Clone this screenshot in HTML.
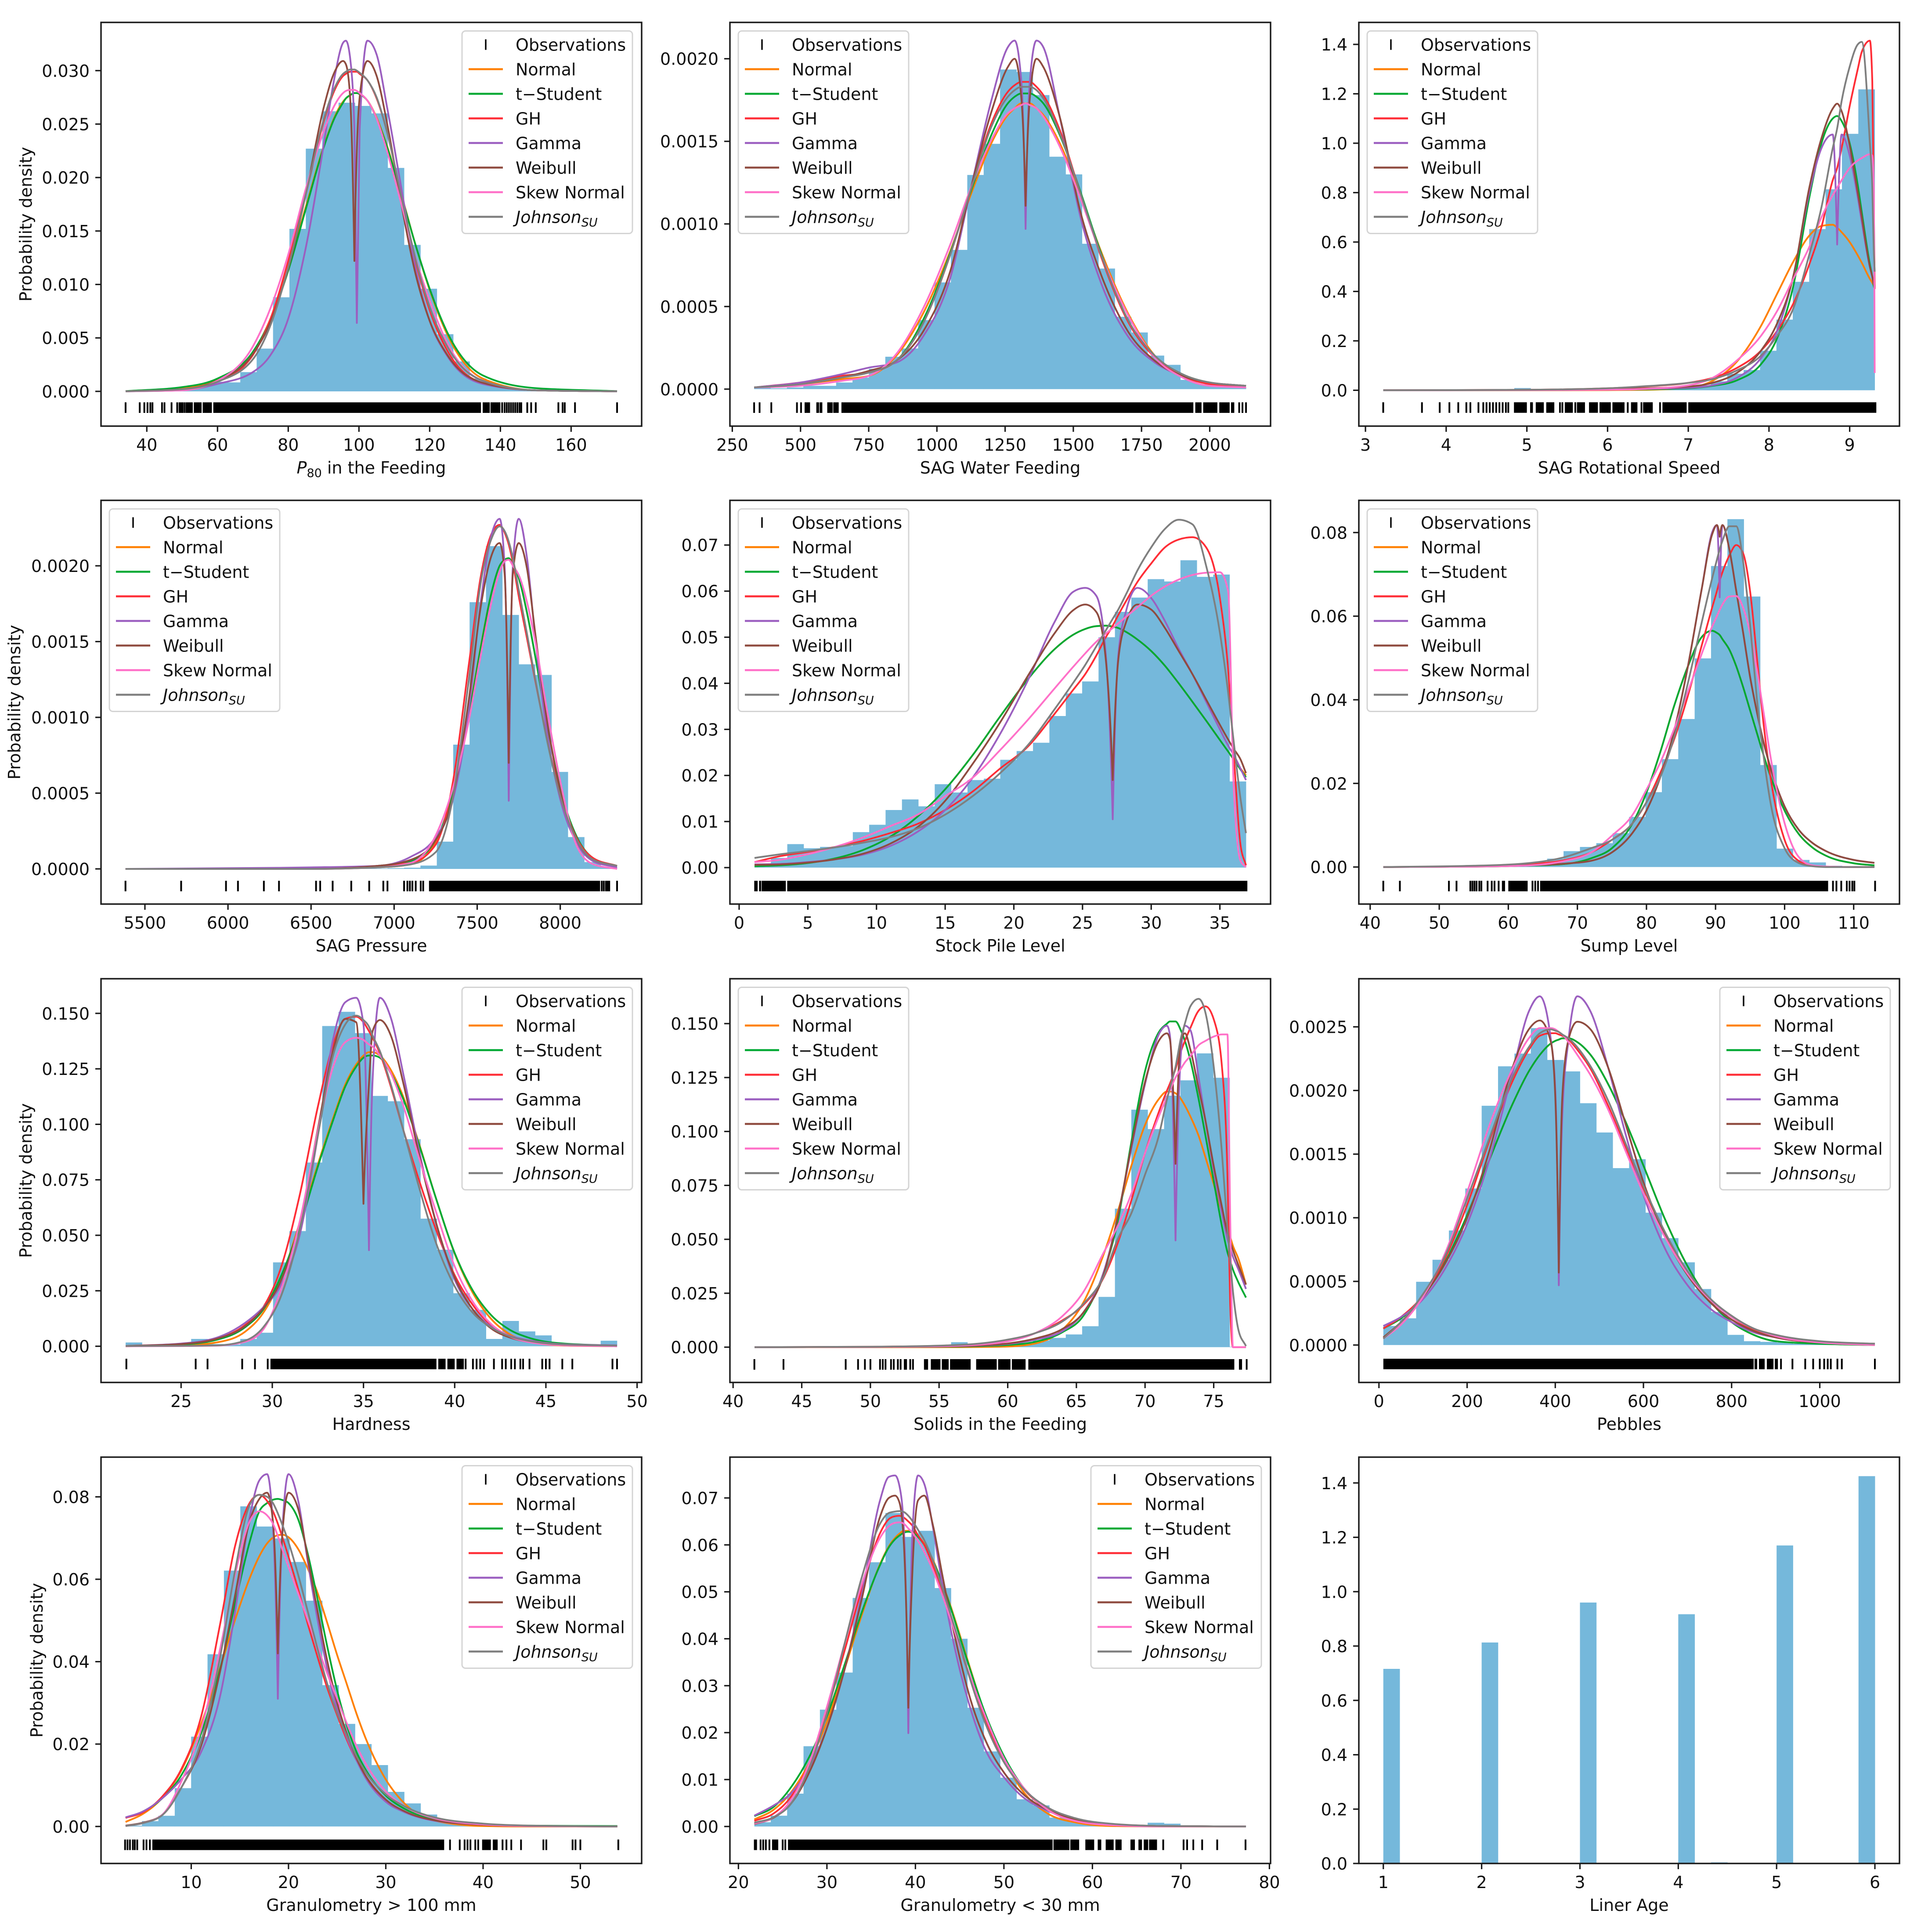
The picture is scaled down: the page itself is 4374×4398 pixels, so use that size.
<!DOCTYPE html>
<html lang="en">
<head>
<meta charset="utf-8">
<title>Probability density fits for SAG mill variables</title>
<style>
html,body{margin:0;padding:0;background:#fff;}
svg{display:block;width:4374px;height:4398px;font-family:"DejaVu Sans","Liberation Sans",sans-serif;}
text{fill:#111;white-space:pre;}
</style>
</head>
<body>
<svg id="figure" width="4374" height="4398" viewBox="0 0 4374 4398"></svg>
<script>
/* ---------- shared labels ---------- */
const seriesNames = ['Normal','t\u2212Student','GH','Gamma','Weibull','Skew Normal','Johnson'];
const seriesColors = ['#ff8000','#00a933','#ff2d36','#9b5fc0','#8f4b3f','#ff70c8','#7f7f7f'];

/* ---------- P80 in the feeding ---------- */
const p80Bins = [.00005,.00005,.00015,.0002,.00054,.0009,.00084,.0018,.004,.0088,.0152,.0227,.0262,.027,.0267,.026,.0209,.0137,.0096,.00535,.0028,.0012,.00055,.0003,.0002,.0001,.0001,.00003,0,.00002];
const p80X = [34,50,60,70,75,80,85,90,93,95.5,96.3,97.5,98.7,99.4,100.2,102.4,105,108,112,116,120,125,135,150,173];
const p80Normal = [0,.0003,.0011,.0036,.0068,.0115,.0173,.0229,.0256,.0271,.0274,.0277,.0279,.0279,.0278,.0272,.0256,.0229,.0184,.0137,.0095,.0053,.0012,.0001,0];
const p80Student = [.00002,.0004,.0012,.0037,.0067,.0113,.0171,.0228,.0255,.027,.0274,.0277,.0279,.0279,.0278,.0272,.0255,.0228,.0183,.0137,.0096,.0055,.0015,.0003,.00002];
const p80GH = [0,.0002,.0009,.0034,.0068,.0122,.0185,.0252,.0281,.0295,.0297,.0299,.0299,.0299,.0297,.0291,.0274,.0242,.0182,.0122,.0076,.0038,.0008,.0001,0];
const p80Gamma = [0,.0001,.0007,.0018,.0034,.0068,.0135,.023,.0292,.0326,.0328,.0312,.0245,.0064,.0245,.0328,.0315,.0265,.019,.0115,.0066,.0033,.0007,.0001,0];
const p80Weibull = [0,.0002,.001,.0035,.0065,.0115,.0185,.0265,.0298,.0309,.0306,.0275,.0122,.0225,.0275,.0309,.0295,.025,.0175,.011,.0066,.0034,.0008,.0001,0];
const p80Skew = [0,.0001,.001,.0042,.0078,.0128,.019,.0243,.0267,.0279,.0281,.0282,.0282,.0281,.0279,.0272,.0255,.0224,.0175,.0125,.0085,.0045,.001,.0001,0];
const p80Johnson = [0,.0002,.0009,.003,.0062,.0116,.0185,.0254,.0283,.0297,.0299,.0301,.0301,.03,.0298,.0291,.0275,.0242,.0182,.0124,.0079,.0042,.001,.0001,0];
const p80Obs = [34,38,39.3,40.2,41,41.6,44.3,45,47,48.6,50.7,140.5,141.2,141.8,142.4,143,143.6,144.2,144.8,145.4,145.9,147.6,148.7,150,156.4,157.6,158.2,161.1,173];
const p80ObsBands = [[49,50.4],[51,53],[53.3,55.5],[55.8,58.4],[58.8,134.5],[135,137],[137.2,140]];
const p80XTicks = ['40','60','80','100','120','140','160'];
const p80YTicks = ['0.000','0.005','0.010','0.015','0.020','0.025','0.030'];

/* ---------- SAG water feeding ---------- */
const waterBins = [.00001,.000005,.00001,.00002,.00002,.00004,.00007,.000123,.000196,.000246,.000418,.000646,.000843,.0012965,.001485,.001935,.00192,.00178,.001407,.0013,.00088,.00073,.000438,.000343,.000203,.000147,.000056,.00003,.00002,.00001];
const waterX = [330,500,650,750,850,950,1050,1125,1200,1260,1285,1310,1325,1340,1365,1390,1450,1525,1600,1700,1800,1900,2000,2133];
const waterNormal = [.00001,.00003,.00006,.00008,.0002,.00046,.00084,.00118,.00149,.00166,.0017,.00173,.00173,.00173,.0017,.00166,.00149,.00118,.00084,.00046,.0002,.00008,.00003,.00001];
const waterStudent = [.00001,.00003,.00008,.0001,.00017,.00042,.00083,.0012,.00154,.00173,.00177,.00179,.00179,.00179,.00177,.00173,.00154,.0012,.00083,.00042,.0002,.00009,.00004,.00002];
const waterGH = [.00001,.00004,.00008,.0001,.00017,.0004,.00082,.00122,.00161,.0018,.00184,.00186,.00186,.00186,.00183,.00178,.00157,.00119,.00081,.00041,.00019,.00008,.00003,.00001];
const waterGamma = [.00001,.00004,.00009,.00013,.00016,.00032,.00068,.00122,.00175,.00207,.00211,.00185,.00097,.00185,.00211,.00207,.00165,.00105,.00065,.00032,.00016,.00008,.00004,.00002];
const waterWeibull = [.00001,.00003,.00007,.00011,.00017,.00035,.00072,.00122,.00168,.00195,.002,.00175,.00111,.00175,.002,.00195,.00165,.00108,.0007,.00035,.00017,.00008,.00004,.00002];
const waterSkew = [.00001,.00002,.00005,.00008,.00021,.00049,.00088,.00122,.00151,.00167,.0017,.00172,.00173,.00172,.0017,.00165,.00147,.00116,.00082,.00045,.00019,.00007,.00002,.00001];
const waterJohnson = [.00001,.00003,.00007,.0001,.00017,.0004,.00082,.00121,.00159,.00177,.00181,.00183,.00183,.00183,.00181,.00176,.00155,.00119,.00082,.00042,.0002,.00009,.00004,.00002];
const waterObs = [330,350,393,487,502,2108,2120,2133];
const waterObsBands = [[515,535],[558,568],[570,580],[598,618],[620,640],[650,1940],[1947,1970],[1976,2028],[2035,2073],[2078,2090]];
const waterXTicks = ['250','500','750','1000','1250','1500','1750','2000'];
const waterYTicks = ['0.0000','0.0005','0.0010','0.0015','0.0020'];

/* ---------- SAG rotational speed ---------- */
const speedBins = [.0005,0,.0005,.001,.001,.002,.002,.003,.009,.004,.004,.005,.006,.007,.006,.008,.009,.01,.014,.02,.036,.067,.082,.16,.286,.439,.6525,.8135,1.038,1.218];
const speedX = [3.22,5,6,6.5,7,7.3,7.6,7.9,8.1,8.3,8.5,8.65,8.79,8.845,8.9,9,9.1,9.15,9.25,9.28,9.3,9.31];
const speedNormal = [0,0,.0005,.002,.0103,.038,.115,.26,.39,.52,.626,.665,.67,.658,.64,.6,.546,.516,.451,.435,.422,.41];
const speedStudent = [0,.0005,.002,.004,.008,.018,.04,.105,.21,.42,.78,1,1.1,1.11,1.09,1,.83,.72,.51,.46,.42,.41];
const speedGH = [0,.002,.008,.016,.03,.05,.09,.16,.24,.35,.51,.66,.85,.9,.98,1.15,1.3,1.37,1.415,1.25,.72,.41];
const speedGamma = [0,.001,.003,.006,.01,.02,.05,.13,.24,.46,.8,.98,1.035,.59,1.035,.95,.78,.68,.5,.46,.43,.43];
const speedWeibull = [0,.001,.004,.008,.015,.03,.07,.16,.27,.46,.82,1.02,1.14,1.16,1.13,.99,.8,.7,.5,.46,.43,.42];
const speedSkew = [0,.0005,.002,.006,.02,.05,.12,.22,.32,.45,.58,.7,.79,.82,.85,.9,.93,.94,.955,.95,.8,.07];
const speedJohnson = [0,.002,.008,.017,.03,.045,.08,.14,.22,.33,.55,.74,.98,1.06,1.17,1.31,1.4,1.41,1,.82,.55,.48];
const speedObs = [3.22,3.7,3.92,4.04,4.15,4.25,4.3,4.4,4.46,4.5,4.54,4.58,4.62,4.66,4.7,4.74,4.77,5.41,5.44,5.6,6.25,6.42,6.65];
const speedObsBands = [[4.84,5],[5.04,5.075],[5.11,5.21],[5.24,5.34],[5.47,5.57],[5.62,5.72],[5.77,5.88],[5.9,6.04],[6.06,6.21],[6.29,6.37],[6.44,6.56],[6.68,6.98],[7,9.33]];
const speedXTicks = ['3','4','5','6','7','8','9'];
const speedYTicks = ['0.0','0.2','0.4','0.6','0.8','1.0','1.2','1.4'];

/* ---------- SAG pressure ---------- */
const pressureBins = [0,0,0,0,0,0,0,0,0,0,0,0,0,0,.000003,.000003,.000005,.000008,.000022,.00018,.00082,.00176,.00213,.001676,.00135,.00128,.00064,.00021,.000045,.00001];
const pressureX = [5383,6500,6900,7100,7250,7350,7450,7520,7590,7635,7665,7690,7715,7750,7800,7850,7920,8000,8100,8200,8342];
const pressureNormal = [0,0,.00001,.00003,.00018,.00049,.00102,.00146,.00184,.002,.00204,.00205,.00201,.00192,.00169,.0014,.00096,.00053,.0002,.00006,.00002];
const pressureStudent = [0,0,.00002,.00005,.00019,.00049,.00101,.00145,.00184,.002,.00204,.00205,.00201,.00192,.00169,.0014,.00096,.00053,.00021,.00007,.00002];
const pressureGH = [0,0,.00002,.00004,.00016,.00055,.00135,.00192,.00222,.00227,.00222,.00214,.00202,.0018,.00152,.00124,.00086,.0005,.0002,.00007,.00002];
const pressureGamma = [0,.00001,.00002,.00008,.00021,.00044,.00105,.00175,.00222,.00231,.002,.00045,.002,.00231,.00205,.00152,.0009,.00046,.00017,.00005,.00001];
const pressureWeibull = [0,0,.00002,.00006,.00019,.00046,.00112,.00172,.00208,.00215,.00195,.0007,.00195,.00215,.00198,.00155,.00098,.00052,.00019,.00006,.00002];
const pressureSkew = [0,0,.00001,.00004,.00022,.00052,.00098,.0014,.00178,.00196,.00203,.00204,.002,.00194,.00176,.0015,.00105,.00058,.00015,.00003,0];
const pressureJohnson = [0,0,.00001,.00003,.00011,.00045,.00125,.00188,.00219,.00226,.00223,.00216,.00205,.00184,.00155,.00125,.00085,.00048,.00019,.00006,.00002];
const pressureObs = [5383,5718,5988,6060,6216,6307,6530,6555,6630,6742,6850,6935,6960,7060,7080,7095,7110,7130,7160,7175,8250,8262,8275,8285,8295,8342];
const pressureObsBands = [[7210,8240]];
const pressureXTicks = ['5500','6000','6500','7000','7500','8000'];
const pressureYTicks = ['0.0000','0.0005','0.0010','0.0015','0.0020'];

/* ---------- Stock pile level ---------- */
const stockBins = [.0003,.0021,.0051,.0042,.0045,.0047,.0077,.0093,.0125,.0148,.0133,.0181,.0163,.019,.0193,.0234,.0253,.0271,.0329,.0378,.0404,.05,.0555,.0586,.0626,.0621,.0667,.0631,.0636,.0187];
const stockX = [1.12,3,5,7,9,11,13,15,17,19,21,23,24.3,25.2,26,26.7,27.2,27.6,28.2,29,30,31,32,33,34,35,35.6,36,36.5,36.9];
const stockNormal = [.0003,.0005,.001,.002,.0038,.0067,.0111,.017,.0244,.0328,.0408,.0475,.0505,.0518,.0524,.0525,.0523,.052,.0511,.0495,.047,.0438,.04,.036,.0319,.0277,.0252,.0235,.0215,.02];
const stockStudent = [.0003,.0005,.001,.002,.0038,.0067,.0111,.017,.0244,.0328,.0408,.0475,.0505,.0518,.0524,.0525,.0523,.052,.0511,.0495,.047,.0438,.04,.036,.0319,.0277,.0252,.0235,.0213,.0196];
const stockGH = [.0012,.0025,.0034,.0045,.0058,.0075,.0095,.0125,.0165,.0215,.0262,.0335,.0385,.042,.046,.05,.0525,.0548,.058,.062,.066,.0695,.0712,.0717,.0695,.0585,.043,.025,.005,.0005];
const stockGamma = [.0007,.0008,.0012,.0018,.0028,.0047,.0078,.0125,.0195,.029,.0405,.0535,.0598,.0607,.059,.046,.0105,.046,.056,.0607,.0585,.0535,.0475,.042,.036,.03,.0265,.0245,.0215,.019];
const stockWeibull = [.0006,.0007,.0011,.0018,.003,.0052,.0088,.0145,.0225,.0315,.0415,.051,.0558,.0571,.0555,.045,.019,.045,.0535,.0571,.056,.052,.047,.042,.0365,.031,.0278,.0258,.0235,.0205];
const stockSkew = [.0012,.0017,.0029,.0045,.0065,.009,.0115,.0155,.0195,.0255,.032,.039,.0435,.0465,.049,.0508,.052,.053,.0545,.0565,.059,.061,.0625,.0635,.064,.0641,.06,.018,.0015,.0001];
const stockJohnson = [.0021,.0029,.0036,.0044,.0054,.0066,.0085,.0115,.0155,.0205,.0265,.0345,.04,.044,.048,.0515,.054,.056,.0595,.0645,.0695,.0735,.0755,.0745,.0655,.051,.038,.0275,.015,.0075];
const stockObs = [2,1.7];
const stockObsBands = [[1.1,1.35],[1.45,1.6],[1.75,1.95],[2.05,3.4],[3.5,37]];
const stockXTicks = ['0','5','10','15','20','25','30','35'];
const stockYTicks = ['0.00','0.01','0.02','0.03','0.04','0.05','0.06','0.07'];

/* ---------- Sump level ---------- */
const sumpBins = [.0001,.0001,.0001,.0002,.0003,.0004,.0004,.0005,.0008,.0012,.002,.0038,.0048,.0057,.0081,.012,.0179,.0258,.0354,.0499,.072,.0832,.0647,.0244,.0044,.0017,.0011,.0003,.0002,.0001];
const sumpX = [41.9,55,62,68,72,75,78,80,82,84,86,88,89.5,90.2,90.6,91,92,93,94,95,96,97,98,100,102,104,106,110,113];
const sumpNormal = [0,.0001,.0003,.0007,.0021,.0045,.0105,.0178,.0275,.0385,.048,.055,.0565,.056,.0555,.0545,.052,.048,.043,.0375,.032,.0265,.0215,.0135,.008,.0047,.0027,.0009,.0004];
const sumpStudent = [0,.0001,.0003,.0007,.0021,.0045,.0105,.0178,.0275,.0385,.048,.055,.0565,.056,.0555,.0545,.052,.048,.043,.0375,.032,.0265,.0215,.0135,.008,.0047,.0027,.0009,.0004];
const sumpGH = [0,.0002,.0006,.0016,.0035,.0065,.0105,.0155,.0225,.0305,.041,.053,.062,.066,.0685,.0705,.0745,.077,.075,.066,.05,.0335,.021,.0065,.0015,.0003,.0001,0,0];
const sumpGamma = [0,.0001,.0004,.0008,.0015,.0035,.0082,.0135,.0215,.0325,.048,.0665,.08,.0818,.0645,.0818,.076,.066,.056,.0455,.037,.0295,.0235,.0145,.009,.0058,.0038,.0017,.001];
const sumpWeibull = [0,.0001,.0004,.0008,.0015,.0035,.0082,.0135,.0215,.0325,.048,.0665,.0795,.0818,.079,.0818,.076,.066,.056,.0455,.037,.0295,.0235,.0145,.009,.0058,.0038,.0017,.001];
const sumpSkew = [0,.0001,.0003,.0014,.0035,.0075,.0125,.0185,.025,.033,.042,.051,.0575,.06,.0615,.0628,.0647,.0648,.062,.056,.047,.0365,.026,.0105,.0025,.0004,.0001,0,0];
const sumpJohnson = [0,.0003,.0008,.0023,.0045,.0065,.0105,.0155,.0215,.031,.044,.0585,.069,.0735,.076,.078,.0815,.0815,.073,.058,.04,.026,.015,.0045,.001,.0002,0,0,0];
const sumpObs = [41.9,44.3,51.4,52.5,54.5,54.8,55.1,55.4,55.8,56.1,57,57.6,58,58.6,59.2,59.4,63.5,63.9,64.3,107,107.5,108.2,109,109.4,109.8,110.1,113.1];
const sumpObsBands = [[60,62.8],[64.6,106.3]];
const sumpXTicks = ['40','50','60','70','80','90','100','110'];
const sumpYTicks = ['0.00','0.02','0.04','0.06','0.08'];

/* ---------- Hardness ---------- */
const hardBins = [.0017,.0006,.0003,.0005,.0033,.001,.0008,.0033,.0061,.0378,.0519,.0828,.1443,.1507,.1411,.1128,.1104,.0933,.0575,.0435,.0239,.0164,.0033,.0114,.0067,.0049,.0008,.0005,0,.0025];
const hardX = [21.96,25,27,28.5,29.5,30.5,31.5,32.5,33.3,34,34.6,35,35.3,35.5,35.9,36.5,37.2,38,39,40,41,42,43,44,46,48.9];
const hardNormal = [0,.0003,.0018,.0065,.015,.031,.0555,.082,.102,.118,.127,.131,.1325,.1325,.131,.1245,.112,.0925,.066,.0417,.024,.0123,.0055,.0022,.0003,0];
const hardStudent = [.0001,.0008,.003,.0085,.0165,.032,.054,.081,.101,.117,.126,.13,.131,.131,.13,.123,.111,.092,.066,.042,.025,.014,.0075,.004,.0012,.0003];
const hardGH = [.0001,.001,.0035,.0095,.0175,.036,.068,.108,.135,.1475,.1485,.146,.142,.139,.132,.117,.097,.076,.052,.032,.0185,.0095,.0048,.0024,.0006,.0001];
const hardGamma = [.0001,.0012,.004,.0105,.0175,.028,.05,.095,.137,.155,.157,.145,.0433,.12,.157,.148,.122,.09,.055,.03,.0165,.0088,.0048,.0028,.0009,.0004];
const hardWeibull = [.0001,.001,.0035,.009,.017,.03,.056,.098,.132,.1475,.146,.0642,.118,.142,.147,.14,.118,.088,.055,.031,.0165,.008,.004,.002,.0006,.0002];
const hardSkew = [0,.0001,.0003,.002,.0075,.026,.056,.097,.125,.137,.139,.138,.136,.135,.131,.123,.108,.086,.06,.036,.02,.01,.0045,.002,.0004,0];
const hardJohnson = [.0001,.0002,.0004,.0025,.0085,.023,.052,.095,.13,.145,.149,.147,.144,.14,.133,.118,.097,.073,.046,.027,.015,.0085,.0045,.0025,.0008,.0003];
const hardObs = [22,25.8,26.45,28.35,29.05,29.75,40.6,41,41.2,41.4,41.6,42.15,42.6,42.8,43.1,43.3,43.6,43.75,44.1,44.8,45,45.2,45.9,46.45,48.65,48.9];
const hardObsBands = [[29.9,39],[39.1,39.5],[39.6,40],[40.1,40.5]];
const hardXTicks = ['25','30','35','40','45','50'];
const hardYTicks = ['0.000','0.025','0.050','0.075','0.100','0.125','0.150'];

/* ---------- Solids in the feeding ---------- */
const solidsBins = [.0001,.0001,.0001,.0001,.0001,.0002,.0003,.0003,.0004,.0005,.0007,.0009,.0023,.001,.0011,.0014,.0019,.0031,.0043,.0059,.0097,.0233,.0642,.1101,.1011,.1166,.1237,.1362,.1249,.0002];
const solidsX = [41.56,50,55,58,60,62,64,65.5,67,68,69,70,71,71.6,71.8,72.22,72.6,72.9,73.3,73.9,74.4,75,75.6,76,76.2,76.4,76.8,77.35];
const solidsNormal = [0,0,0,.0001,.0003,.0017,.0082,.0206,.0433,.0626,.084,.103,.115,.1185,.1185,.1177,.1152,.112,.107,.098,.088,.0755,.0626,.0543,.051,.047,.041,.029];
const solidsStudent = [0,.0001,.0002,.0005,.001,.0025,.007,.0145,.035,.058,.095,.128,.146,.15,.151,.151,.147,.142,.133,.115,.098,.077,.056,.044,.04,.036,.03,.023];
const solidsGH = [0,.0002,.0006,.0016,.0033,.0065,.0125,.0195,.0325,.048,.068,.09,.109,.119,.122,.129,.137,.142,.148,.156,.158,.152,.13,.08,.02,0,0,0];
const solidsGamma = [0,.0001,.0003,.0007,.0015,.0035,.0075,.016,.035,.06,.092,.122,.145,.149,.145,.0495,.135,.149,.147,.125,.105,.082,.062,.05,.046,.042,.036,.027];
const solidsWeibull = [0,.0001,.0003,.0008,.0017,.004,.0085,.016,.034,.06,.093,.123,.142,.1455,.143,.085,.142,.1455,.138,.12,.105,.084,.065,.053,.049,.045,.038,.029];
const solidsSkew = [0,.0001,.0004,.0012,.0027,.0065,.0145,.0255,.044,.056,.071,.09,.107,.116,.119,.125,.129,.132,.135,.14,.142,.144,.145,.145,.06,0,0,0];
const solidsJohnson = [0,.0002,.0007,.0017,.0035,.0065,.012,.02,.033,.05,.062,.08,.098,.115,.12,.13,.143,.15,.158,.1615,.155,.13,.09,.055,.04,.026,.008,.0005];
const solidsObs = [41.55,43.67,48.2,49.1,49.6,50,50.7,50.9,51.1,51.5,51.7,52,52.2,52.5,52.6,52.9,53.1,76.9,77,77.4];
const solidsObsBands = [[53.9,54.2],[54.4,55.1],[55.2,55.7],[55.8,57.3],[57.7,59.2],[59.3,60.2],[60.3,61.3],[61.5,76.5]];
const solidsXTicks = ['40','45','50','55','60','65','70','75'];
const solidsYTicks = ['0.000','0.025','0.050','0.075','0.100','0.125','0.150'];

/* ---------- Pebbles ---------- */
const pebblesBins = [.00015,.00021,.000497,.00067,.0009,.00123,.00188,.00219,.00229,.00249,.00224,.00215,.0019,.00167,.00139,.00146,.00104,.00084,.00065,.00044,.00026,.00008,.00003,.000025,.00002,.00001,.00001,.000005,.000005,.000002];
const pebblesX = [10,50,100,150,200,250,300,340,365,390,400,408,416,430,450,480,520,560,600,650,700,750,800,850,900,1000,1125];
const pebblesNormal = [.00013,.00021,.00038,.00065,.00102,.00145,.00187,.00215,.00228,.00237,.00239,.0024,.00241,.00241,.00238,.00228,.00205,.00175,.00141,.00098,.00062,.00035,.00018,.00008,.00003,.00001,0];
const pebblesStudent = [.00013,.00021,.00038,.00065,.00102,.00145,.00187,.00215,.00228,.00237,.00239,.0024,.00241,.00241,.00238,.00228,.00205,.00175,.00141,.00098,.00062,.00035,.00018,.00008,.00003,.00001,0];
const pebblesGH = [.00013,.00022,.00039,.00068,.0011,.0016,.00205,.00232,.00243,.00245,.00245,.00244,.00243,.0024,.00232,.00217,.00188,.00155,.00123,.00087,.00057,.00036,.00022,.00012,.00007,.00002,.00001];
const pebblesGamma = [.00015,.00022,.00036,.0006,.00095,.00145,.0021,.00262,.00274,.0024,.002,.00047,.0018,.0024,.00274,.00262,.00218,.00165,.00118,.00075,.00047,.00029,.00018,.0001,.00006,.00002,.00001];
const pebblesWeibull = [.00006,.00018,.00038,.00064,.001,.00152,.00215,.00248,.00255,.00238,.00195,.00057,.00195,.0024,.00254,.00248,.00218,.00173,.00128,.00085,.00055,.00034,.0002,.00011,.00006,.00002,.00001];
const pebblesSkew = [.00005,.00016,.00038,.00072,.0012,.00172,.00215,.00241,.00249,.00249,.00248,.00246,.00244,.00238,.00228,.00212,.00185,.00152,.00119,.00084,.00056,.00036,.00022,.00013,.00007,.00002,0];
const pebblesJohnson = [.00005,.00018,.0004,.0007,.00115,.00162,.00208,.00234,.00245,.00248,.00247,.00246,.00244,.00241,.00234,.00219,.00192,.00158,.00125,.00088,.00058,.00037,.00023,.00013,.00008,.00003,.00001];
const pebblesObs = [912,938,967,985,1000,1010,1018,1025,1040,1050,1125];
const pebblesObsBands = [[10,850],[852,858],[862,875],[880,895],[898,905]];
const pebblesXTicks = ['0','200','400','600','800','1000'];
const pebblesYTicks = ['0.0000','0.0005','0.0010','0.0015','0.0020','0.0025'];

/* ---------- Granulometry > 100 mm ---------- */
const coarseBins = [.0002,.0013,.0026,.0093,.0218,.0418,.0621,.0777,.0728,.0699,.0642,.0548,.0343,.0249,.02,.0149,.0084,.0056,.0029,.0014,.0006,.0005,.0003,.0002,.0001,.0001,.0001,.00005,0,.00005];
const coarseX = [3.25,5,7,9,11,13,14.5,16,17,17.8,18.4,18.9,19.4,20,21,22,23,24,25,26,27,28,30,32,35,40,45,53.8];
const coarseNormal = [.0011,.003,.0069,.0137,.0248,.0387,.0501,.0602,.0656,.0687,.0701,.0707,.0708,.0702,.0673,.0625,.0566,.0493,.0416,.0345,.0273,.021,.0114,.0054,.0014,.0001,0,0];
const coarseStudent = [.0021,.0036,.0068,.0125,.0225,.0385,.054,.069,.0765,.0785,.0793,.0795,.0792,.0785,.0745,.066,.055,.0435,.033,.0245,.018,.0135,.0075,.0042,.0018,.0005,.0002,.0001];
const coarseGH = [.0021,.0034,.0072,.014,.0265,.0495,.068,.0785,.0805,.079,.0765,.0735,.07,.0655,.0575,.049,.041,.0335,.027,.021,.016,.012,.0065,.0036,.0015,.0004,.0001,0];
const coarseGamma = [.0022,.0036,.0068,.0115,.018,.032,.052,.075,.084,.0855,.073,.031,.073,.0855,.079,.064,.05,.038,.0285,.0215,.016,.0115,.006,.0034,.0014,.0004,.0001,0];
const coarseWeibull = [.0002,.0009,.0028,.0095,.0195,.038,.056,.074,.0795,.081,.074,.042,.072,.081,.077,.065,.052,.04,.03,.0225,.0165,.012,.0065,.0036,.0015,.0004,.0001,0];
const coarseSkew = [.0001,.0008,.0028,.011,.0235,.0435,.061,.074,.0765,.0755,.0735,.0705,.067,.063,.0565,.05,.0435,.037,.031,.025,.0195,.015,.0085,.0048,.002,.0005,.0001,0];
const coarseJohnson = [.0001,.0008,.0027,.0095,.0205,.0415,.062,.078,.0805,.08,.0785,.076,.073,.069,.061,.052,.043,.0345,.0275,.022,.017,.013,.0078,.0048,.0022,.0007,.0002,0];
const coarseObs = [3.2,3.45,3.7,4,4.2,4.45,5.1,5.4,5.75,36.6,37.6,38.1,38.4,38.7,39.2,39.5,42,42.4,42.9,43.9,46.2,46.5,49.2,49.5,50,53.9];
const coarseObsBands = [[6,36],[39.9,40.8],[41,41.5]];
const coarseXTicks = ['10','20','30','40','50'];
const coarseYTicks = ['0.00','0.02','0.04','0.06','0.08'];

/* ---------- Granulometry < 30 mm ---------- */
const fineBins = [.0009,.0023,.007,.0171,.0249,.0328,.0487,.0563,.0668,.0617,.063,.0508,.04,.0253,.016,.0104,.0058,.0045,.0019,.0016,.0007,.0004,.0002,.0002,.0008,.0006,.0001,.0001,0,.0001];
const fineX = [21.8,24,26,28,30,32,34,36,37,37.7,38.2,38.7,39.2,39.7,40.3,41,42,43,44,45,46,48,50,52,55,58,62,68,77.35];
const fineNormal = [.0015,.0036,.0074,.0136,.0223,.0336,.0454,.0559,.0597,.0615,.0624,.063,.063,.0628,.0619,.0602,.0567,.052,.0468,.0409,.0348,.0233,.0144,.0079,.0027,.0009,.0001,0,0];
const fineStudent = [.0022,.0042,.0085,.0148,.0235,.0345,.046,.0557,.0595,.0612,.062,.0626,.0628,.0626,.0617,.06,.0565,.052,.0465,.0405,.0345,.0235,.015,.0088,.0035,.0013,.0004,.0001,0];
const fineGH = [.0012,.0028,.0065,.0135,.0245,.0375,.051,.0625,.0655,.0661,.0662,.0658,.065,.064,.062,.06,.0555,.05,.0445,.0385,.0325,.022,.014,.0085,.0036,.0014,.0004,.0001,0];
const fineGamma = [.0023,.0045,.0072,.0125,.021,.0335,.05,.0695,.0745,.0748,.0725,.063,.0199,.064,.0748,.073,.0635,.052,.042,.0335,.0265,.016,.0105,.0065,.0033,.0015,.0005,.0001,0];
const fineWeibull = [.0005,.0019,.005,.0115,.021,.0335,.049,.066,.07,.0705,.069,.06,.0253,.056,.0695,.0705,.064,.054,.0445,.036,.0285,.018,.0115,.0072,.0035,.0016,.0005,.0001,0];
const fineSkew = [.0006,.002,.0058,.0135,.0255,.039,.052,.0615,.064,.0647,.0648,.0645,.0635,.0625,.0608,.0585,.0545,.0495,.044,.0385,.033,.023,.0145,.0088,.0035,.0012,.0003,0,0];
const fineJohnson = [.0008,.002,.005,.0125,.024,.039,.0535,.0645,.0668,.0671,.0672,.067,.0662,.065,.0632,.061,.0565,.051,.045,.039,.0325,.0215,.0137,.0085,.004,.0018,.0006,.0001,0];
const fineObs = [22.5,22.8,23.1,23.5,25,25.3,68,70.3,70.7,71.4,72.4,74.1,77.3];
const fineObsBands = [[21.75,22.1],[23.8,24.5],[25.6,55.5],[55.6,57.4],[57.5,58.5],[59.2,60.2],[60.6,61],[61.5,62.4],[62.6,63.3],[64.3,64.8],[65.2,65.6],[65.8,66.3],[66.4,67.3]];
const fineXTicks = ['20','30','40','50','60','70','80'];
const fineYTicks = ['0.00','0.01','0.02','0.03','0.04','0.05','0.06','0.07'];

/* ---------- Liner age ---------- */
const linerBins = [.716,0,0,0,0,0,.813,0,0,0,0,0,.96,0,0,0,0,0,.917,0,.004,0,0,0,1.17,0,0,0,0,1.425];
const linerXTicks = ['1','2','3','4','5','6'];
const linerYTicks = ['0.0','0.2','0.4','0.6','0.8','1.0','1.2','1.4'];

/* ---------- figure layout ---------- */
const rowTop = [51,1139,2228,3317];
const rowBottom = [970,2058,3147,4242];
const colLeft = [230,1662,3094];
const axesWidth = 1231;

const panels = [
 {id:'p80',label:'in the Feeding',math:true,row:0,col:0,xlim:[27.05,179.95],ylim:[-.00325,.03451],rug:-.00152,range:[34,173],bins:p80Bins,grid:p80X,curves:[p80Normal,p80Student,p80GH,p80Gamma,p80Weibull,p80Skew,p80Johnson],obs:p80Obs,bands:p80ObsBands,xt:p80XTicks,yt:p80YTicks,legend:'right',yLabelX:59},
 {id:'water',label:'SAG Water Feeding',row:0,col:1,xlim:[241.3,2223],ylim:[-.000224,.00222],rug:-.000112,range:[330,2133],bins:waterBins,grid:waterX,curves:[waterNormal,waterStudent,waterGH,waterGamma,waterWeibull,waterSkew,waterJohnson],obs:waterObs,bands:waterObsBands,xt:waterXTicks,yt:waterYTicks,legend:'left'},
 {id:'speed',label:'SAG Rotational Speed',row:0,col:2,xlim:[2.918,9.617],ylim:[-.1451,1.489],rug:-.0699,range:[3.22,9.31],bins:speedBins,grid:speedX,curves:[speedNormal,speedStudent,speedGH,speedGamma,speedWeibull,speedSkew,speedJohnson],obs:speedObs,bands:speedObsBands,xt:speedXTicks,yt:speedYTicks,legend:'left'},
 {id:'pressure',label:'SAG Pressure',row:1,col:0,xlim:[5235.7,8490],ylim:[-.000232,.002432],rug:-.000113,range:[5383,8342],bins:pressureBins,grid:pressureX,curves:[pressureNormal,pressureStudent,pressureGH,pressureGamma,pressureWeibull,pressureSkew,pressureJohnson],obs:pressureObs,bands:pressureObsBands,xt:pressureXTicks,yt:pressureYTicks,legend:'left',yLabelX:33},
 {id:'stock',label:'Stock Pile Level',row:1,col:1,xlim:[-.67,38.69],ylim:[-.00791,.0797],rug:-.004,range:[1.12,36.9],bins:stockBins,grid:stockX,curves:[stockNormal,stockStudent,stockGH,stockGamma,stockWeibull,stockSkew,stockJohnson],obs:stockObs,bands:stockObsBands,xt:stockXTicks,yt:stockYTicks,legend:'left'},
 {id:'sump',label:'Sump Level',row:1,col:2,xlim:[38.36,116.63],ylim:[-.00886,.0877],rug:-.00455,range:[41.9,113.07],bins:sumpBins,grid:sumpX,curves:[sumpNormal,sumpStudent,sumpGH,sumpGamma,sumpWeibull,sumpSkew,sumpJohnson],obs:sumpObs,bands:sumpObsBands,xt:sumpXTicks,yt:sumpYTicks,legend:'left'},
 {id:'hardness',label:'Hardness',row:2,col:0,xlim:[20.61,50.25],ylim:[-.01631,.1656],rug:-.008,range:[21.96,48.9],bins:hardBins,grid:hardX,curves:[hardNormal,hardStudent,hardGH,hardGamma,hardWeibull,hardSkew,hardJohnson],obs:hardObs,bands:hardObsBands,xt:hardXTicks,yt:hardYTicks,legend:'right',yLabelX:59},
 {id:'solids',label:'Solids in the Feeding',row:2,col:1,xlim:[39.77,79.14],ylim:[-.01636,.1708],rug:-.008,range:[41.56,77.35],bins:solidsBins,grid:solidsX,curves:[solidsNormal,solidsStudent,solidsGH,solidsGamma,solidsWeibull,solidsSkew,solidsJohnson],obs:solidsObs,bands:solidsObsBands,xt:solidsXTicks,yt:solidsYTicks,legend:'left'},
 {id:'pebbles',label:'Pebbles',row:2,col:2,xlim:[-45.6,1180.8],ylim:[-.000294,.002878],rug:-.000149,range:[10,1125],bins:pebblesBins,grid:pebblesX,curves:[pebblesNormal,pebblesStudent,pebblesGH,pebblesGamma,pebblesWeibull,pebblesSkew,pebblesJohnson],obs:pebblesObs,bands:pebblesObsBands,xt:pebblesXTicks,yt:pebblesYTicks,legend:'right'},
 {id:'coarse',label:'Granulometry > 100 mm',row:3,col:0,xlim:[.727,56.3],ylim:[-.00898,.08964],rug:-.00445,range:[3.25,53.8],bins:coarseBins,grid:coarseX,curves:[coarseNormal,coarseStudent,coarseGH,coarseGamma,coarseWeibull,coarseSkew,coarseJohnson],obs:coarseObs,bands:coarseObsBands,xt:coarseXTicks,yt:coarseYTicks,legend:'right',yLabelX:84},
 {id:'fine',label:'Granulometry < 30 mm',row:3,col:1,xlim:[19.04,80.13],ylim:[-.00788,.0787],rug:-.0039,range:[21.8,77.35],bins:fineBins,grid:fineX,curves:[fineNormal,fineStudent,fineGH,fineGamma,fineWeibull,fineSkew,fineJohnson],obs:fineObs,bands:fineObsBands,xt:fineXTicks,yt:fineYTicks,legend:'right'},
 {id:'liner',label:'Liner Age',row:3,col:2,xlim:[.751,6.25],ylim:[0,1.495],range:[1,6],bins:linerBins,xt:linerXTicks,yt:linerYTicks}
];

const ns = 'http://www.w3.org/2000/svg';
const figure = document.getElementById('figure');
const fontSize = 38;

function make(tag, parent, attrs) {
  const el = document.createElementNS(ns, tag);
  for (const k in attrs) el.setAttribute(k, attrs[k]);
  parent.appendChild(el);
  return el;
}

/* monotone cubic path through data knots, in pixel space; sharp dips keep a cusp */
function curvePath(xs, ys, sx, sy) {
  const px = xs.map(sx), py = ys.map(sy), n = px.length;
  const slope = [], tanIn = new Array(n), tanOut = new Array(n);
  for (let i = 0; i < n - 1; i++) slope.push((py[i + 1] - py[i]) / (px[i + 1] - px[i]));
  for (let i = 1; i < n - 1; i++) {
    const h0 = px[i] - px[i - 1], h1 = px[i + 1] - px[i];
    const s0 = slope[i - 1], s1 = slope[i];
    if (s0 > 2.5 && s1 < -2.5) {
      tanIn[i] = s0 * 1.6;
      tanOut[i] = s1 * 1.6;
    } else {
      const p = (s0 * h1 + s1 * h0) / (h0 + h1);
      tanIn[i] = tanOut[i] = (Math.sign(s0) + Math.sign(s1)) * Math.min(Math.abs(s0), Math.abs(s1), 0.5 * Math.abs(p));
    }
  }
  tanOut[0] = slope[0];
  tanIn[n - 1] = slope[n - 2];
  let d = 'M' + px[0].toFixed(1) + ' ' + py[0].toFixed(1);
  for (let i = 0; i < n - 1; i++) {
    const h = (px[i + 1] - px[i]) / 3;
    d += 'C' + (px[i] + h).toFixed(1) + ' ' + (py[i] + tanOut[i] * h).toFixed(1) + ' ' +
      (px[i + 1] - h).toFixed(1) + ' ' + (py[i + 1] - tanIn[i + 1] * h).toFixed(1) + ' ' +
      px[i + 1].toFixed(1) + ' ' + py[i + 1].toFixed(1);
  }
  return d;
}

function drawLegend(g, p, left, right, top) {
  const w = 388, h = 461;
  const lx = p.legend === 'right' ? right - 21 - w : left + 19;
  const ly = top + 19.5;
  const legend = make('g', g, {});
  
  
  const box = make('rect', legend, {x: lx, y: ly, width: w, height: h, rx: 8, ry: 8, fill: '#fff', 'fill-opacity': .8, stroke: '#d4d4d4', 'stroke-width': 3});
  
  
  const handleX = lx + 15, handleW = 78, textX = lx + 122;
  const obsMark = make('line', legend, {x1: handleX + handleW / 2, x2: handleX + handleW / 2, y1: ly + 31 - 12, y2: ly + 31 + 12, stroke: '#000', 'stroke-width': 3.4});
  
  
  const obsText = make('text', legend, {x: textX, y: ly + 31 + 14, 'font-size': fontSize});
  
  
  obsText.textContent = 'Observations';
  seriesNames.forEach(function (name, i) {
    const cy = ly + 31 + 56 * (i + 1);
    const swatch = make('line', legend, {x1: handleX, x2: handleX + handleW, y1: cy, y2: cy, stroke: seriesColors[i], 'stroke-width': 4.4});
    
    
    const label = make('text', legend, {x: textX, y: cy + 14, 'font-size': fontSize});
    
    
    if (name === 'Johnson') {
      const a = make('tspan', label, {'font-style': 'italic'});
      a.textContent = name;
      const b = make('tspan', label, {'font-style': 'italic', 'font-size': 27, dy: 8});
      b.textContent = 'SU';
    } else {
      label.textContent = name;
    }
  });
}

panels.forEach(function (p) {
  const left = colLeft[p.col], right = left + axesWidth;
  const top = rowTop[p.row], bottom = rowBottom[p.row];
  const sx = function (v) { return left + (v - p.xlim[0]) / (p.xlim[1] - p.xlim[0]) * axesWidth; };
  const sy = function (v) { return bottom - (v - p.ylim[0]) / (p.ylim[1] - p.ylim[0]) * (bottom - top); };

  const g = make('g', figure, {});
  
  

  /* histogram */
  const binWidth = (p.range[1] - p.range[0]) / p.bins.length;
  p.bins.forEach(function (v, i) {
    if (v <= 0) return;
    const x0 = sx(p.range[0] + i * binWidth), x1 = sx(p.range[0] + (i + 1) * binWidth);
    const bar = make('rect', g, {x: x0, y: sy(v), width: x1 - x0 + .4, height: sy(0) - sy(v), fill: '#75b8db'});
    
    
  });

  /* rug of observations */
  if (p.obs) {
    const cy = sy(p.rug);
    p.bands.forEach(function (b) {
      const band = make('rect', g, {x: sx(b[0]), y: cy - 12, width: sx(b[1]) - sx(b[0]), height: 24, fill: '#000'});
      
      
    });
    p.obs.forEach(function (v) {
      const tick = make('line', g, {x1: sx(v), x2: sx(v), y1: cy - 12, y2: cy + 12, stroke: '#000', 'stroke-width': 4});
      
      
    });
  }

  /* fitted curves */
  if (p.curves) {
    p.curves.forEach(function (ys, i) {
      const line = make('path', g, {d: curvePath(p.grid, ys, sx, sy), fill: 'none', stroke: seriesColors[i], 'stroke-width': 4, 'stroke-linejoin': 'round'});
      
      
    });
  }

  /* frame */
  const frame = make('rect', g, {x: left, y: top, width: axesWidth, height: bottom - top, fill: 'none', stroke: '#1a1a1a', 'stroke-width': 3.4});
  
  

  /* x ticks */
  p.xt.forEach(function (t) {
    const x = sx(Number(t));
    const tick = make('line', g, {x1: x, x2: x, y1: bottom, y2: bottom + 13, stroke: '#1a1a1a', 'stroke-width': 3.2});
    
    
    const label = make('text', g, {x: x, y: bottom + 56, 'font-size': fontSize, 'text-anchor': 'middle'});
    
    
    label.textContent = t;
  });

  /* y ticks */
  p.yt.forEach(function (t) {
    const y = sy(Number(t));
    const tick = make('line', g, {x1: left - 13, x2: left, y1: y, y2: y, stroke: '#1a1a1a', 'stroke-width': 3.2});
    
    
    const label = make('text', g, {x: left - 26, y: y + 14, 'font-size': fontSize, 'text-anchor': 'end'});
    
    
    label.textContent = t;
  });

  /* axis titles */
  const xTitle = make('text', g, {x: left + axesWidth / 2, y: bottom + 108, 'font-size': fontSize, 'text-anchor': 'middle'});
  
  
  if (p.math) {
    const a = make('tspan', xTitle, {'font-style': 'italic'});
    a.textContent = 'P';
    const b = make('tspan', xTitle, {'font-size': 27, dy: 8});
    b.textContent = '80';
    const c = make('tspan', xTitle, {dy: -8});
    c.textContent = ' ' + p.label;
  } else {
    xTitle.textContent = p.label;
  }
  if (p.yLabelX) {
    const cy = (top + bottom) / 2;
    const yTitle = make('text', g, {x: p.yLabelX, y: cy, 'font-size': fontSize, 'text-anchor': 'middle', 'dominant-baseline': 'central', transform: 'rotate(-90 ' + p.yLabelX + ' ' + cy + ')'});
    
    
    yTitle.textContent = 'Probability density';
  }

  if (p.legend) drawLegend(g, p, left, right, top);
});
</script>
</body>
</html>
